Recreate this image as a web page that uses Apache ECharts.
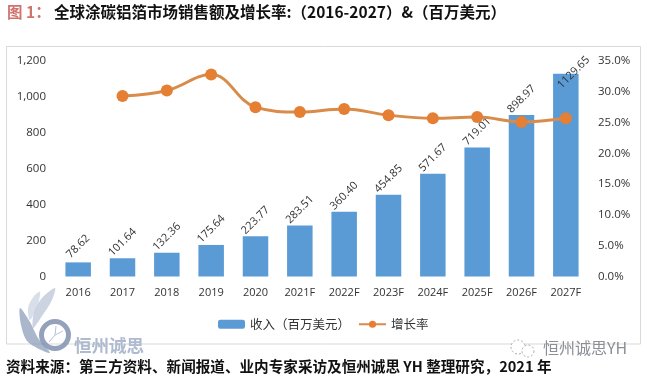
<!DOCTYPE html>
<html>
<head>
<meta charset="utf-8">
<style>
  html, body { margin: 0; padding: 0; background: #fff; }
  #main { width: 647px; height: 376px; }
</style>
<script src="https://cdn.jsdelivr.net/npm/echarts@6/dist/echarts.min.js"></script>
</head>
<body>
<div id="main"></div>
<script>
  const categories = ['2016', '2017', '2018', '2019', '2020', '2021F', '2022F', '2023F', '2024F', '2025F', '2026F', '2027F']
  const revenue = [78.62, 101.64, 132.36, 175.64, 223.77, 283.51, 360.40, 454.85, 571.67, 719.01, 898.97, 1129.65]
  const growth = [null, 29.3, 30.2, 32.8, 27.5, 26.7, 27.2, 26.2, 25.7, 25.9, 25.1, 25.7]
  const leftTicks = { min: 0, max: 1200, interval: 200 }
  const rightTicks = { min: 0, max: 35, interval: 5 }

  const fontCn = '"Noto Sans CJK SC", "Noto Sans", sans-serif'
  const fontNum = '"Open Sans", "Noto Sans", sans-serif'

  const myChart = echarts.init(document.getElementById('main'), null, { renderer: 'canvas' })

  // 最后一根柱子的标签压在柱顶上
  const barData = revenue.map((v, i) => {
    if (i === revenue.length - 1) return { value: v, label: { offset: [-5, 16] } }
    return v
  })

  const option = {
    animation: false,
    backgroundColor: '#fff',
    grid: { left: 56, right: 59, top: 61, bottom: 99.5 },
    legend: {
      left: 213,
      top: 313,
      itemGap: 8,
      itemWidth: 27,
      itemHeight: 9,
      textStyle: { fontFamily: fontCn, fontSize: 12.5, color: '#333' },
      data: ['收入（百万美元）', '增长率']
    },
    xAxis: {
      type: 'category',
      data: categories,
      axisLine: { show: false },
      axisTick: { show: false },
      axisLabel: { interval: 0, margin: 11, fontFamily: fontNum, fontSize: 11, color: '#333' }
    },
    yAxis: [
      {
        type: 'value',
        min: leftTicks.min,
        max: leftTicks.max,
        interval: leftTicks.interval,
        axisLine: { show: false },
        axisTick: { show: false },
        splitLine: { show: false },
        axisLabel: {
          margin: 10,
          fontFamily: fontNum,
          fontSize: 11.5,
          color: '#333',
          formatter: v => v.toLocaleString('en-US')
        }
      },
      {
        type: 'value',
        min: rightTicks.min,
        max: rightTicks.max,
        interval: rightTicks.interval,
        position: 'right',
        axisLine: { show: false },
        axisTick: { show: false },
        splitLine: { show: false },
        axisLabel: {
          margin: 10,
          fontFamily: fontNum,
          fontSize: 11.5,
          color: '#333',
          formatter: v => v.toFixed(1) + '%'
        }
      }
    ],
    series: [
      {
        name: '收入（百万美元）',
        type: 'bar',
        barWidth: 25.5,
        itemStyle: { color: '#5B9BD5' },
        label: {
          show: true,
          position: 'top',
          rotate: 45,
          distance: 16,
          align: 'center',
          verticalAlign: 'middle',
          fontFamily: fontNum,
          fontSize: 11,
          color: '#333',
          formatter: p => p.value.toFixed(2)
        },
        data: barData
      },
      {
        name: '增长率',
        type: 'line',
        yAxisIndex: 1,
        smooth: 0.4,
        symbol: 'circle',
        symbolSize: 12,
        connectNulls: false,
        lineStyle: { color: '#D98B4A', width: 3 },
        itemStyle: { color: '#E57F33' },
        data: growth
      }
    ],
    graphic: [
      // 外框
      { type: 'rect', z: -1, shape: { x: 6.5, y: 46.5, width: 634, height: 297.5 }, style: { fill: '#fff', stroke: '#D9D9D9', lineWidth: 1 } },
      // 标题
      { type: 'text', x: 7, y: 4, style: { text: '图 1：', fontFamily: fontCn, fontSize: 15.5, fontWeight: 'bold', fill: '#D0736F' } },
      { type: 'text', x: 54, y: 4, style: { text: '全球涂碳铝箔市场销售额及增长率:（2016-2027）&（百万美元）', fontFamily: fontCn, fontSize: 15.5, fontWeight: 'bold', fill: '#111' } },
      // 水印 logo
      { type: 'polygon', shape: { smooth: 0.3, points: [[20, 308], [21, 325], [28, 342], [50, 353], [38, 338], [30, 322]] }, style: { fill: '#8C9DBB', opacity: 0.75 } },
      { type: 'polygon', shape: { smooth: 0.3, points: [[33, 328], [34, 312], [42, 298], [55, 288], [52, 300], [42, 316]] }, style: { fill: '#B6C2D6', opacity: 0.7 } },
      { type: 'polygon', shape: { smooth: 0.3, points: [[30, 320], [28, 308], [34, 296], [40, 292], [38, 304]] }, style: { fill: '#C9D2E1', opacity: 0.7 } },
      { type: 'ring', shape: { cx: 55, cy: 335, r: 16, r0: 11 }, style: { fill: '#8797B3', opacity: 0.9 } },
      { type: 'line', shape: { x1: 55, y1: 335, x2: 56, y2: 326 }, style: { stroke: '#B6C2D6', lineWidth: 1 } },
      { type: 'line', shape: { x1: 55, y1: 335, x2: 49, y2: 342 }, style: { stroke: '#B6C2D6', lineWidth: 1 } },
      { type: 'line', shape: { x1: 55, y1: 335, x2: 63, y2: 331 }, style: { stroke: '#B6C2D6', lineWidth: 1 } },
      { type: 'text', x: 74, y: 337, style: { text: '恒州诚思', fontFamily: fontCn, fontSize: 17.5, fontWeight: 'bold', fill: '#AEBACE' } },
      // 公众号水印
      { type: 'circle', shape: { cx: 518, cy: 347, r: 7 }, style: { fill: '#fff', stroke: '#AAAAAA', lineWidth: 1, lineDash: [2, 2] } },
      { type: 'circle', shape: { cx: 528, cy: 351, r: 6 }, style: { fill: '#fff', stroke: '#AAAAAA', lineWidth: 1, lineDash: [2, 2] } },
      { type: 'text', x: 543, y: 340, style: { text: '恒州诚思YH', fontFamily: fontCn, fontSize: 16, fill: '#8A8F96' } },
      // 资料来源
      { type: 'text', x: 6, y: 359, style: { text: '资料来源：第三方资料、新闻报道、业内专家采访及恒州诚思 YH 整理研究，2021 年', fontFamily: fontCn, fontSize: 14.6, fontWeight: 'bold', fill: '#111' } }
    ]
  }
  myChart.setOption(option)
</script>
</body>
</html>
